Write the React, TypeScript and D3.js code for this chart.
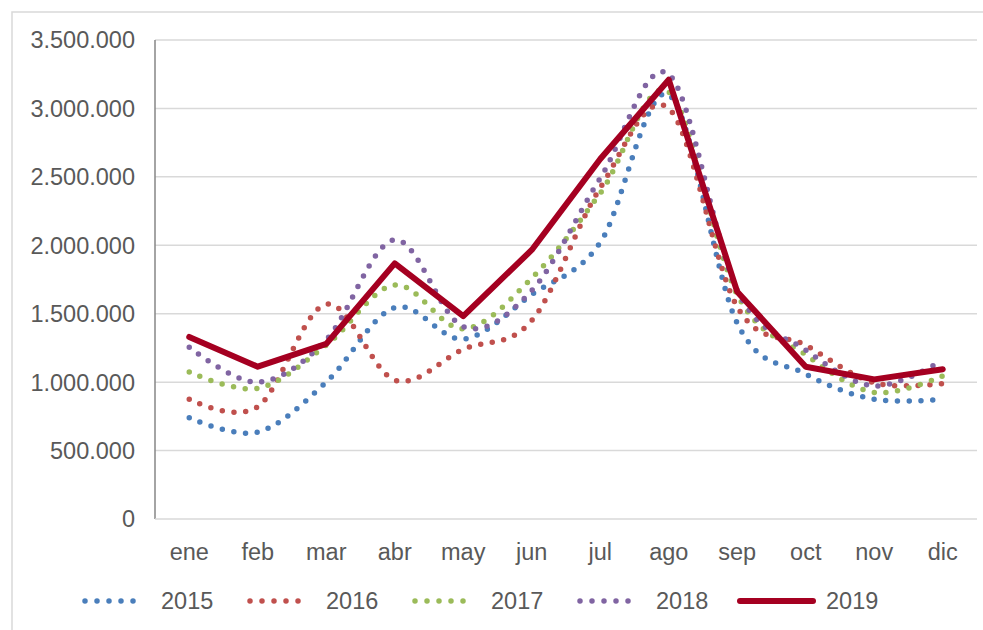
import React from 'react';
import * as d3 from 'd3';

const months = ['ene', 'feb', 'mar', 'abr', 'may', 'jun', 'jul', 'ago', 'sep', 'oct', 'nov', 'dic'];
const yTicks = [0, 500000, 1000000, 1500000, 2000000, 2500000, 3000000, 3500000];

const v2015 = [740000, 635000, 1000000, 1545000, 1315000, 1640000, 2020000, 3100000, 1430000, 1060000, 875000, 875000];
const v2016 = [875000, 820000, 1570000, 1015000, 1240000, 1450000, 2420000, 3000000, 1550000, 1270000, 995000, 990000];
const v2017 = [1075000, 955000, 1270000, 1710000, 1390000, 1760000, 2380000, 3120000, 1640000, 1200000, 925000, 1045000];
const v2018 = [1255000, 1000000, 1310000, 2040000, 1405000, 1670000, 2490000, 3250000, 1670000, 1235000, 972000, 1160000];
const v2019 = [1330000, 1113000, 1280000, 1868000, 1483000, 1966000, 2630000, 3210000, 1660000, 1113000, 1020000, 1094000];

const seriesNames = ['2015', '2016', '2017', '2018', '2019'];
const seriesColors = ['#4a7ebb', '#c0504d', '#9bbb59', '#8064a2', '#a50021'];

const W = 983, H = 630;
const left = 155, right = 977, top = 40, bottom = 519;
const font = '"Liberation Sans", Arial, sans-serif';
const txt = '#595959';

const fmt = (v: number) => d3.format(',')(v).replace(/,/g, '.');

export default function App() {
  const series = [v2015, v2016, v2017, v2018, v2019];
  const x = d3.scaleBand<string>().domain(months).range([left, right]);
  const y = d3.scaleLinear().domain([0, 3500000]).range([bottom, top]);
  const cx = (m: string) => (x(m) as number) + x.bandwidth() / 2;

  const smooth = d3.line<number>()
    .x((_, i) => cx(months[i]))
    .y(d => y(d))
    .curve(d3.curveCatmullRom.alpha(0));
  const straight = d3.line<number>()
    .x((_, i) => cx(months[i]))
    .y(d => y(d));

  return (
    <div style={{ position: 'fixed', left: 0, top: 0 }}>
      <svg width={W} height={H} style={{ display: 'block', background: '#fff' }}>
        <rect x={12} y={12} width={1000} height={700} fill="none" stroke="#d9d9d9" strokeWidth={1.5} />
        {yTicks.map(t => (
          <g key={t}>
            {t > 0 && <line x1={left} x2={right} y1={y(t)} y2={y(t)} stroke="#d9d9d9" strokeWidth={1.5} />}
            <text x={135} y={y(t)} dy="0.36em" textAnchor="end" fontFamily={font} fontSize={23.5} fill={txt}>{fmt(t)}</text>
          </g>
        ))}
        <line x1={left} x2={left} y1={top} y2={bottom} stroke="#868686" strokeWidth={1.5} />
        <line x1={left} x2={right} y1={bottom} y2={bottom} stroke="#d9d9d9" strokeWidth={1.5} />
        {months.map(m => (
          <text key={m} x={cx(m)} y={560} textAnchor="middle" fontFamily={font} fontSize={23.5} fill={txt}>{m}</text>
        ))}
        {series.map((s, i) => i < 4 ? (
          <path key={i} d={smooth(s) as string} fill="none" stroke={seriesColors[i]} strokeWidth={5.5}
            strokeLinecap="round" strokeDasharray="0 11.7" />
        ) : (
          <path key={i} d={straight(s) as string} fill="none" stroke={seriesColors[i]} strokeWidth={6}
            strokeLinejoin="round" strokeLinecap="round" />
        ))}
        {seriesNames.map((n, i) => {
          const lx = 85 + i * 165;
          return (
            <g key={n}>
              {i < 4 ? (
                <line x1={lx} x2={lx + 60} y1={601} y2={601} stroke={seriesColors[i]} strokeWidth={5.5}
                  strokeLinecap="round" strokeDasharray="0 12" />
              ) : (
                <line x1={lx - 5} x2={lx + 68} y1={601} y2={601} stroke={seriesColors[i]} strokeWidth={6}
                  strokeLinecap="round" />
              )}
              <text x={i < 4 ? lx + 76 : lx + 81} y={601} dy="0.36em" fontFamily={font} fontSize={23.5} fill={txt}>{n}</text>
            </g>
          );
        })}
      </svg>
    </div>
  );
}
